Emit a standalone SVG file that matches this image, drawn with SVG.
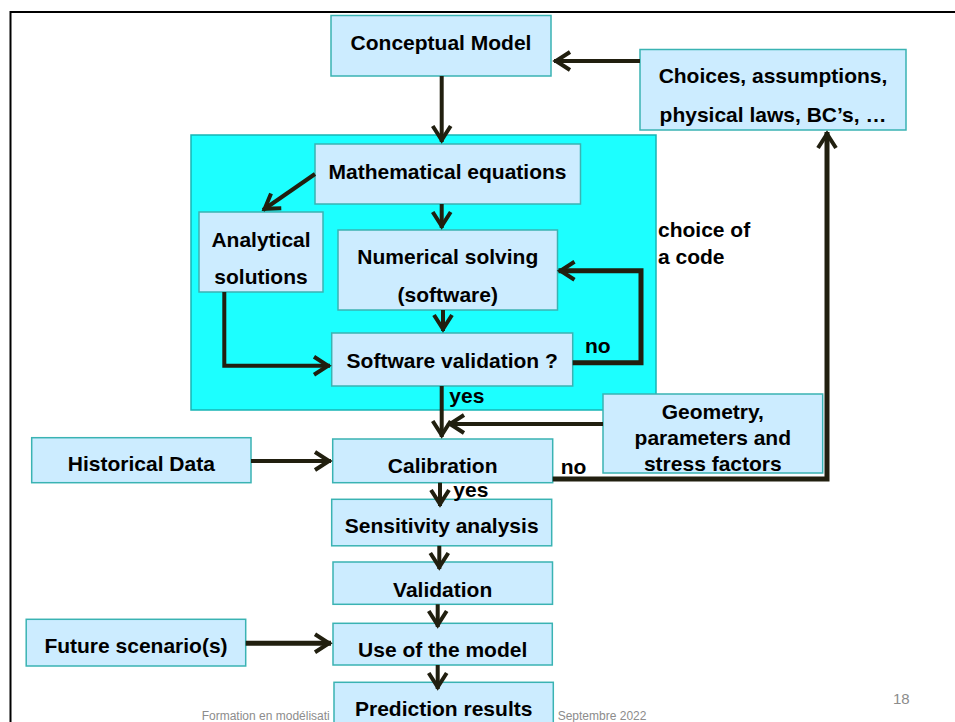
<svg xmlns="http://www.w3.org/2000/svg" width="955" height="722" viewBox="0 0 955 722">
<style>
.box{fill:#CCECFF;stroke:#3AB3B3;stroke-width:1.5}
.grp{fill:#1CFFFF;stroke:#17B5B5;stroke-width:1.5}
.t{font-family:"Liberation Sans",Arial,sans-serif;font-weight:bold;font-size:21px;fill:#000;text-anchor:middle}
.l{font-family:"Liberation Sans",Arial,sans-serif;font-weight:bold;font-size:21px;fill:#000}
.c{fill:none;stroke:#211F0F;stroke-width:4;marker-end:url(#arr)}
.c5{fill:none;stroke:#211F0F;stroke-width:5}
.ft{font-family:"Liberation Sans",Arial,sans-serif;font-size:12px;fill:#8C8C8C}
</style>
<defs>
<marker id="arr" markerUnits="userSpaceOnUse" markerWidth="30" markerHeight="30" viewBox="-20 -15 30 30" refX="0" refY="0" orient="auto" overflow="visible">
<path d="M-16,-9 L-2,0 L-16,9" fill="none" stroke="#211F0F" stroke-width="4"/>
</marker>
</defs>
<rect x="0" y="0" width="955" height="722" fill="#fff"/>
<path d="M955,12 L10.5,12 L10.5,722" fill="none" stroke="#000" stroke-width="2"/>
<text class="ft" x="201.7" y="719.5">Formation en modélisati</text>
<text class="ft" x="557.7" y="719.5">Septembre 2022</text>
<text class="ft" x="893" y="704" style="font-size:15px">18</text>

<g id="solving-group">
<rect class="grp" x="191" y="135" width="465" height="275"/>
</g>

<g id="conceptual-model">
<rect class="box" x="331" y="15.5" width="220" height="60.5"/>
<text class="t" x="441" y="50">Conceptual Model</text>
</g>
<g id="choices">
<rect class="box" x="640" y="49.5" width="266" height="80.5"/>
<text class="t" x="773" y="83">Choices, assumptions,</text>
<text class="t" x="773" y="121.5">physical laws, BC’s, …</text>
</g>
<g id="math-equations">
<rect class="box" x="315" y="144" width="265.5" height="60"/>
<text class="t" x="447.5" y="179">Mathematical equations</text>
</g>
<g id="analytical">
<rect class="box" x="199" y="212" width="124" height="80"/>
<text class="t" x="261" y="246.5">Analytical</text>
<text class="t" x="261" y="284.3">solutions</text>
</g>
<g id="numerical">
<rect class="box" x="338" y="230" width="219.5" height="80"/>
<text class="t" x="447.8" y="264.3">Numerical solving</text>
<text class="t" x="447.8" y="301.7">(software)</text>
</g>
<g id="software-validation">
<rect class="box" x="331.7" y="333" width="241" height="53"/>
<text class="t" x="452.2" y="367.5">Software validation ?</text>
</g>
<g id="geometry">
<rect class="box" x="603" y="394" width="219.7" height="79"/>
<text class="t" x="712.8" y="419">Geometry,</text>
<text class="t" x="712.8" y="445">parameters and</text>
<text class="t" x="712.8" y="470.7">stress factors</text>
</g>
<g id="historical-data">
<rect class="box" x="31.7" y="437.7" width="219.3" height="45"/>
<text class="t" x="141.3" y="471">Historical Data</text>
</g>
<g id="calibration">
<rect class="box" x="332.7" y="439" width="220" height="43.7"/>
<text class="t" x="442.7" y="472.7">Calibration</text>
</g>
<g id="sensitivity">
<rect class="box" x="331.7" y="499.3" width="220" height="46.5"/>
<text class="t" x="441.7" y="533">Sensitivity analysis</text>
</g>
<g id="validation">
<rect class="box" x="333" y="562" width="219.5" height="42.3"/>
<text class="t" x="442.7" y="596.5">Validation</text>
</g>
<g id="future-scenarios">
<rect class="box" x="26.2" y="619.3" width="219.5" height="46.7"/>
<text class="t" x="136" y="653">Future scenario(s)</text>
</g>
<g id="use-model">
<rect class="box" x="333" y="623.3" width="219.3" height="41.7"/>
<text class="t" x="442.7" y="657">Use of the model</text>
</g>
<g id="prediction">
<rect class="box" x="334" y="682.3" width="219.3" height="50"/>
<text class="t" x="443.7" y="715.5">Prediction results</text>
</g>

<g id="connectors">
<path class="c" d="M640,61 L554,61"/>
<path class="c" d="M441.7,76 L441.7,142"/>
<path class="c" d="M315,174 L263,210"/>
<path class="c" d="M441.7,204 L441.7,228"/>
<path class="c" d="M224.3,292 L224.3,365.7 L330,365.7"/>
<path class="c" d="M443,310 L443,331"/>
<path class="c" d="M572.7,362.7 L641,362.7 L641,270.7 L558.5,270.7" style="stroke-width:5"/>
<path class="c" d="M441.7,386 L441.7,437"/>
<path class="c" d="M603,424 L448,424"/>
<path class="c" d="M552.7,479 L827,479 L827,132" style="stroke-width:5"/>
<path class="c" d="M251,461 L331,461"/>
<path class="c" d="M440,482.7 L440,506"/>
<path class="c" d="M439.3,545.8 L439.3,569"/>
<path class="c" d="M437.7,604.3 L437.7,627"/>
<path class="c" d="M245.7,643.3 L331,643.3" style="stroke-width:5"/>
<path class="c" d="M437.7,665 L437.7,689"/>
</g>
<g id="labels">
<text class="l" x="658" y="237">choice of</text>
<text class="l" x="658" y="263.5">a code</text>
<text class="l" x="585" y="352.7">no</text>
<text class="l" x="449.3" y="403">yes</text>
<text class="l" x="560.7" y="474.3">no</text>
<text class="l" x="453.3" y="496.7">yes</text>
</g>
</svg>
